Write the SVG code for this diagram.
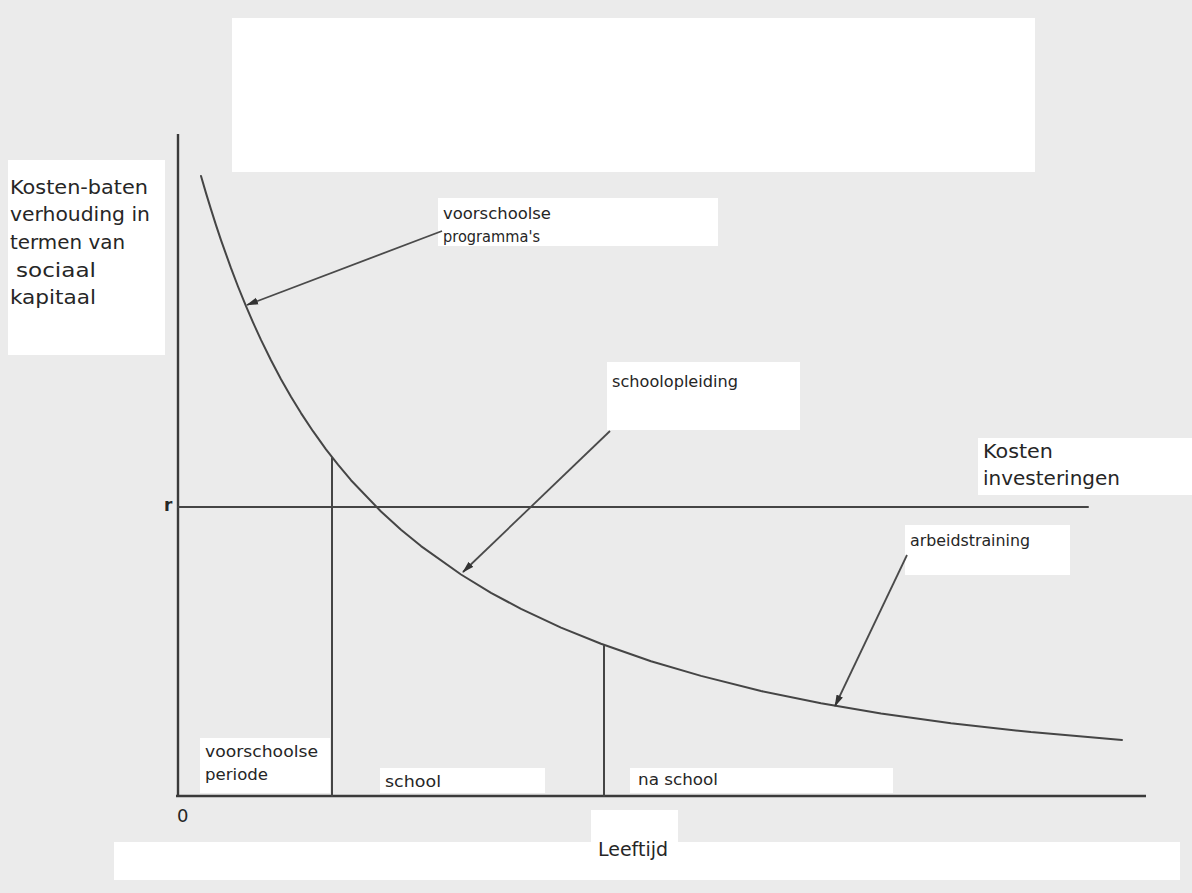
<svg xmlns="http://www.w3.org/2000/svg" width="1192" height="893" viewBox="0 0 1192 893">
<defs>
<style>
.bg{fill:#ebebeb}
.wb{fill:#ffffff}
.ln{stroke:#454545;stroke-width:2;fill:none;stroke-linejoin:round;stroke-linecap:round}
.ax{stroke:#3a3a3a;stroke-width:2.4;fill:none}
.ar{stroke:#4a4a4a;stroke-width:1.8;fill:none}
.t{font-family:"DejaVu Sans","Liberation Sans",sans-serif;fill:#262626}
.tl{font-size:20px}
.ts{font-size:15.5px}
</style>
<marker id="ah" viewBox="0 0 12 8" refX="11" refY="4" markerWidth="12" markerHeight="8" markerUnits="userSpaceOnUse" orient="auto">
<path d="M0,0.5 L12,4 L0,7.5 Z" fill="#333"/>
</marker>
</defs>
<g id="background">
<rect class="bg" x="0" y="0" width="1192" height="893"/>
<rect class="wb" x="232" y="18" width="803" height="154"/>
<rect class="wb" x="8" y="160" width="157" height="195"/>
<rect class="wb" x="438" y="198" width="280" height="48"/>
<rect class="wb" x="607" y="362" width="193" height="68"/>
<rect class="wb" x="978" y="438" width="214" height="57"/>
<rect class="wb" x="905" y="525" width="165" height="50"/>
<rect class="wb" x="200" y="738" width="130" height="55"/>
<rect class="wb" x="380" y="768" width="165" height="25"/>
<rect class="wb" x="630" y="768" width="263" height="25"/>
<rect class="wb" x="591" y="810" width="87" height="34"/>
<rect class="wb" x="114" y="842" width="1066" height="38"/>
</g>
<g id="axes">
<line class="ax" x1="178" y1="134" x2="178" y2="796"/>
<line class="ax" x1="176" y1="796" x2="1146" y2="796"/>
</g>
<g id="r-line">
<line class="ln" x1="178" y1="507" x2="1088" y2="507"/>
</g>
<g id="dividers">
<line class="ln" x1="332" y1="458" x2="332" y2="796"/>
<line class="ln" x1="604" y1="646" x2="604" y2="796"/>
</g>
<g id="curve">
<path class="ln" d="M201,176 L206,193.1 L211,209.4 L216,225.1 L221,240.1 L231,268.2 L238,286.5 L246,306.2 L253,322.4 L261,339.9 L271,360.3 L281,379.2 L291,396.7 L301,413.1 L313,431.2 L326,449.3 L338,464.7 L351,480.2 L381,511.5 L401,529.7 L421,546.1 L461,574.5 L491,592.8 L521,608.9 L561,627.6 L601,643.8 L651,661.2 L701,675.9 L761,691 L821,703.2 L881,713.4 L951,723.2 L1031,732.1 L1122,740"/>
</g>
<g id="connectors">
<line class="ar" x1="442" y1="231" x2="247" y2="305" marker-end="url(#ah)"/>
<line class="ar" x1="610" y1="431" x2="463" y2="572" marker-end="url(#ah)"/>
<line class="ar" x1="907" y1="555" x2="835" y2="706" marker-end="url(#ah)"/>
</g>
<g id="y-label">
<text class="t tl" x="10" y="194" textLength="138" lengthAdjust="spacingAndGlyphs">Kosten-baten</text>
<text class="t tl" x="10" y="221" textLength="140" lengthAdjust="spacingAndGlyphs">verhouding in</text>
<text class="t tl" x="10" y="249" textLength="115" lengthAdjust="spacingAndGlyphs">termen van</text>
<text class="t tl" x="16" y="277" textLength="80" lengthAdjust="spacingAndGlyphs">sociaal</text>
<text class="t tl" x="10" y="304" textLength="86" lengthAdjust="spacingAndGlyphs">kapitaal</text>
</g>
<g id="label-voorschoolse-programmas">
<text class="t ts" x="443" y="219" textLength="108" lengthAdjust="spacingAndGlyphs">voorschoolse</text>
<text class="t ts" x="443" y="242" textLength="97" lengthAdjust="spacingAndGlyphs">programma's</text>
</g>
<g id="label-schoolopleiding">
<text class="t ts" x="612" y="387" textLength="126" lengthAdjust="spacingAndGlyphs">schoolopleiding</text>
</g>
<g id="label-kosten-investeringen">
<text class="t tl" x="983" y="458" textLength="70" lengthAdjust="spacingAndGlyphs">Kosten</text>
<text class="t tl" x="983" y="485" textLength="137" lengthAdjust="spacingAndGlyphs">investeringen</text>
</g>
<g id="label-arbeidstraining">
<text class="t ts" x="910" y="546" textLength="120" lengthAdjust="spacingAndGlyphs">arbeidstraining</text>
</g>
<g id="label-r">
<text class="t" x="164" y="511" font-size="17" font-weight="bold">r</text>
</g>
<g id="label-voorschoolse-periode">
<text class="t ts" x="205" y="757" textLength="113" lengthAdjust="spacingAndGlyphs">voorschoolse</text>
<text class="t ts" x="205" y="780" textLength="63" lengthAdjust="spacingAndGlyphs">periode</text>
</g>
<g id="label-school">
<text class="t ts" x="385" y="787" textLength="56" lengthAdjust="spacingAndGlyphs">school</text>
</g>
<g id="label-na-school">
<text class="t ts" x="638" y="785" textLength="80" lengthAdjust="spacingAndGlyphs">na school</text>
</g>
<g id="label-zero">
<text class="t" x="177" y="822" font-size="18">0</text>
</g>
<g id="label-leeftijd">
<text class="t tl" x="598" y="856" textLength="70" lengthAdjust="spacingAndGlyphs">Leeftijd</text>
</g>
</svg>
